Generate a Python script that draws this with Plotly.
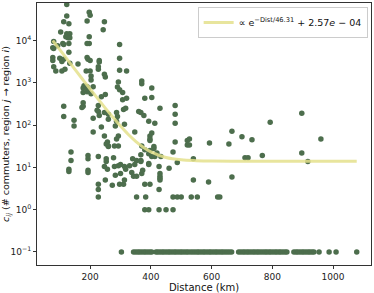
import plotly.graph_objects as go

# Scatter points: distance (km) and commuter counts (zero counts drawn at 0.1)
dist = [
    123, 123, 197, 200, 113, 130, 190, 247, 243, 103,
    123, 127, 133, 120, 127, 133, 197, 297, 80, 93,
    110, 113, 130, 197, 190, 80, 77, 130, 100, 113,
    107, 77, 77, 133, 190, 193, 200, 230, 230, 297,
    160, 80, 87, 107, 117, 187, 200, 227, 227, 297,
    320, 247, 250, 203, 203, 293, 370, 370, 180, 190,
    193, 403, 177, 190, 203, 307, 297, 237, 250, 113,
    177, 177, 173, 307, 320, 380, 403, 480, 430, 227,
    227, 247, 260, 310, 317, 287, 290, 113, 147, 147,
    210, 360, 367, 377, 480, 287, 313, 283, 237, 260,
    393, 413, 347, 210, 247, 257, 260, 293, 287, 293,
    370, 397, 397, 410, 480, 520, 520, 177, 193, 210,
    290, 223, 230,
    897, 793, 667, 700, 733, 960, 593, 657, 527, 527,
    137, 137, 253, 260, 280, 193, 193, 253, 253, 277,
    227, 193, 193, 130, 130, 247, 257, 280, 293, 300,
    313, 340, 353, 367, 393, 380, 397, 413, 420, 433,
    337, 343, 353, 370, 283, 300, 250, 227, 273, 427,
    430, 430, 430, 460, 487, 473, 297, 310, 380, 397,
    430, 227, 227, 353, 383, 473, 487, 500, 380, 393,
    427, 450, 473, 313, 427, 317, 373, 540, 480, 367,
    330, 347, 393, 403, 393, 367, 403, 397, 410,
    710, 720, 767, 897, 917, 540, 590, 667, 533, 553,
    620, 627,
    303, 343, 350, 357, 363, 370, 377, 383, 390, 397,
    403, 417, 423, 430, 437, 443, 450, 457, 463, 470,
    477, 483, 490, 497, 503, 510, 517, 523, 531, 538,
    545, 552, 558, 565, 572, 578, 585, 592, 598, 605,
    612, 618, 625, 632, 638, 645, 652, 659, 666, 689,
    696, 703, 709, 716, 722, 729, 736, 742, 749, 755,
    762, 769, 776, 782, 789, 795, 802, 809, 815, 822,
    828, 835, 842, 848, 871, 878, 884, 891, 898, 904,
    911, 918, 924, 931, 937, 954, 987, 1010, 1078,
]
counts = [
    72000, 38000, 47000, 40000, 28000, 25000, 29000, 28000, 18000, 16000,
    14500, 13000, 14500, 12400, 11700, 11700, 12400, 8100, 9500, 7600,
    8500, 8100, 8500, 8500, 8500, 6500, 6800, 5300, 3800, 3600,
    3200, 4000, 3400, 2900, 4000, 3600, 3400, 3400, 3100, 3800,
    2800, 2400, 1900, 1900, 2100, 1900, 1900, 2100, 2400, 2000,
    1900, 1600, 1380, 1450, 1170, 1050, 1110, 950, 850, 810,
    720, 760, 590, 620, 550, 590, 690, 470, 530, 280,
    340, 280, 260, 400, 430, 430, 450, 290, 250, 290,
    210, 200, 180, 235, 250, 200, 160, 160, 130, 95,
    145, 210, 200, 170, 180, 124, 105, 95, 90, 138,
    124, 111, 69, 69, 55, 40, 32, 55, 47, 32,
    32, 55, 47, 31, 40, 43, 34, 760, 690, 810,
    800, 225, 170,
    190, 117, 72, 53, 45, 47, 38, 36, 47, 34,
    23, 14.5, 36, 31, 32, 19, 16, 16, 13.8, 17,
    18, 8.5, 7.6, 9, 8, 10.5, 9, 10.5, 11, 11.7,
    10.5, 16, 14.5, 13.8, 12.4, 26, 25, 18, 22, 18,
    7.6, 6.2, 6.2, 7.2, 6.5, 7.2, 5, 4, 3.8, 10.5,
    7.2, 6.2, 5.5, 9.5, 13, 23, 4, 4, 4, 4,
    5, 3, 2, 2, 2, 2, 2, 2, 1, 1,
    1, 1, 1, 5, 3, 9, 8.5, 16, 111, 20,
    11, 11.7, 21, 18, 11.7, 14.5, 65, 43, 28,
    17, 17, 19, 22, 13.8, 5, 4.5, 5.9, 2, 2,
    2, 2,
    0.1, 0.1, 0.1, 0.1, 0.1, 0.1, 0.1, 0.1, 0.1, 0.1,
    0.1, 0.1, 0.1, 0.1, 0.1, 0.1, 0.1, 0.1, 0.1, 0.1,
    0.1, 0.1, 0.1, 0.1, 0.1, 0.1, 0.1, 0.1, 0.1, 0.1,
    0.1, 0.1, 0.1, 0.1, 0.1, 0.1, 0.1, 0.1, 0.1, 0.1,
    0.1, 0.1, 0.1, 0.1, 0.1, 0.1, 0.1, 0.1, 0.1, 0.1,
    0.1, 0.1, 0.1, 0.1, 0.1, 0.1, 0.1, 0.1, 0.1, 0.1,
    0.1, 0.1, 0.1, 0.1, 0.1, 0.1, 0.1, 0.1, 0.1, 0.1,
    0.1, 0.1, 0.1, 0.1, 0.1, 0.1, 0.1, 0.1, 0.1, 0.1,
    0.1, 0.1, 0.1, 0.1, 0.1, 0.1, 0.1, 0.1, 0.1,
]

# Fitted curve, values
fit_dist = [77, 100, 125, 150, 175, 200, 225, 250, 275, 300, 325, 350, 375,
            400, 450, 500, 550, 600, 700, 800, 900, 1000, 1078]
fit_vals = [10000, 6100, 3560, 2080, 1218, 715, 423, 252, 153, 95, 61, 41.5, 30,
            23.4, 17.2, 15.1, 14.4, 14.1, 14, 14, 14, 14, 14]

y_tickvals = [0.1, 1, 10, 100, 1000, 10000]
y_ticktext = ["10<sup>\u22121</sup>", "10<sup>0</sup>", "10<sup>1</sup>",
              "10<sup>2</sup>", "10<sup>3</sup>", "10<sup>4</sup>"]
x_tickvals = [200, 400, 600, 800, 1000]

fig = go.Figure()
fig.add_trace(go.Scatter(
    x=dist, y=counts, mode="markers",
    marker=dict(size=5.5, color="#4d6e4d", line=dict(width=0)),
    showlegend=False,
))
fig.add_trace(go.Scatter(
    x=fit_dist, y=fit_vals, mode="lines", line_shape="spline",
    line=dict(color="rgba(228,224,140,0.85)", width=3),
    name="\u221d e<sup>\u2212Dist/46.31</sup> + 2.57<i>e</i> \u2212 04",
))

axis_common = dict(
    showline=True, linecolor="#333", linewidth=1, mirror=True,
    showgrid=False, zeroline=False, ticks="outside", ticklen=3,
    tickcolor="#333", tickfont=dict(family="DejaVu Sans", size=9, color="#222"),
)
fig.update_xaxes(range=[25, 1125], tickvals=x_tickvals,
                 title=dict(text="Distance (km)", standoff=2,
                            font=dict(family="DejaVu Sans", size=10, color="#111")),
                 **axis_common)
fig.update_yaxes(type="log", range=[-1.31, 4.89], tickvals=y_tickvals, ticktext=y_ticktext,
                 title=dict(text="<i>c<sub>ij</sub></i> (# commuters, region <i>j</i> \u2192 region <i>i</i>)",
                            standoff=2,
                            font=dict(family="DejaVu Sans", size=9.5, color="#111")),
                 **axis_common)
fig.update_layout(
    width=374, height=293,
    margin=dict(l=37, r=3, t=2, b=25),
    plot_bgcolor="white", paper_bgcolor="white",
    legend=dict(x=0.99, y=0.985, xanchor="right", yanchor="top",
                bgcolor="rgba(255,255,255,0.8)", bordercolor="#ccc", borderwidth=1,
                font=dict(family="DejaVu Sans", size=9.5, color="#111"),
                itemwidth=30, tracegroupgap=0),
)
fig.write_html("out.html", config={"displayModeBar": False},
               post_script="document.body.style.margin='0';")
